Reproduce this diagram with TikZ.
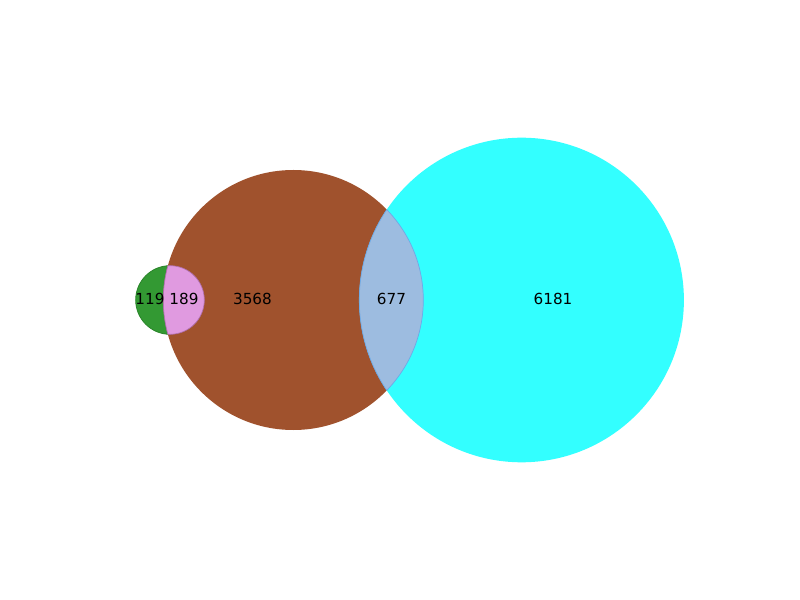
\documentclass[tikz,border=0pt]{standalone}
\usepackage{fontspec}
\setmainfont{DejaVu Sans}
\definecolor{cgreen}{HTML}{339933}
\definecolor{cgreenE}{HTML}{2A852A}
\definecolor{cbrown}{HTML}{A0522D}
\definecolor{ccyan}{HTML}{33FFFF}
\definecolor{cpink}{HTML}{E09AE0}
\definecolor{cpinkE}{HTML}{B070B0}
\definecolor{clens}{HTML}{9DBCE0}
\definecolor{clensE}{HTML}{6FA8E8}
\begin{document}
\begin{tikzpicture}[x=0.01in,y=-0.01in,
  lbl/.style={font=\fontsize{11}{13}\selectfont, inner sep=0pt, text=black}]
\useasboundingbox (0,0) rectangle (800,600);
\fill[white] (0,0) rectangle (800,600);
% sets
\draw[fill=cgreen, draw=cgreenE, line width=0.6pt] (170,300) circle [radius=34.3];
\fill[cbrown] (293.3,300) circle [radius=130];
\fill[ccyan] (521.6,300) circle [radius=162.3];
% green & brown
\begin{scope}
  \clip (293.3,300) circle [radius=130];
  \draw[fill=cpink, draw=cpinkE, line width=0.5pt] (170,300) circle [radius=34.3];
\end{scope}
\begin{scope}
  \clip (170,300) circle [radius=34.3];
  \draw[draw=cpinkE, line width=0.5pt] (293.3,300) circle [radius=130];
\end{scope}
% brown & cyan
\begin{scope}
  \clip (293.3,300) circle [radius=130];
  \draw[fill=clens, draw=clensE, line width=0.5pt] (521.6,300) circle [radius=162.3];
\end{scope}
\begin{scope}
  \clip (521.6,300) circle [radius=162.3];
  \draw[draw=clensE, line width=0.5pt] (293.3,300) circle [radius=130];
\end{scope}
% labels
\node[lbl] (a) at (150,299) {119};
\node[lbl] (ab) at (184,299) {189};
\node[lbl] (b) at (252.5,299) {3568};
\node[lbl] (bc) at (391.5,299) {677};
\node[lbl] (c) at (553,299) {6181};
\end{tikzpicture}
\end{document}
